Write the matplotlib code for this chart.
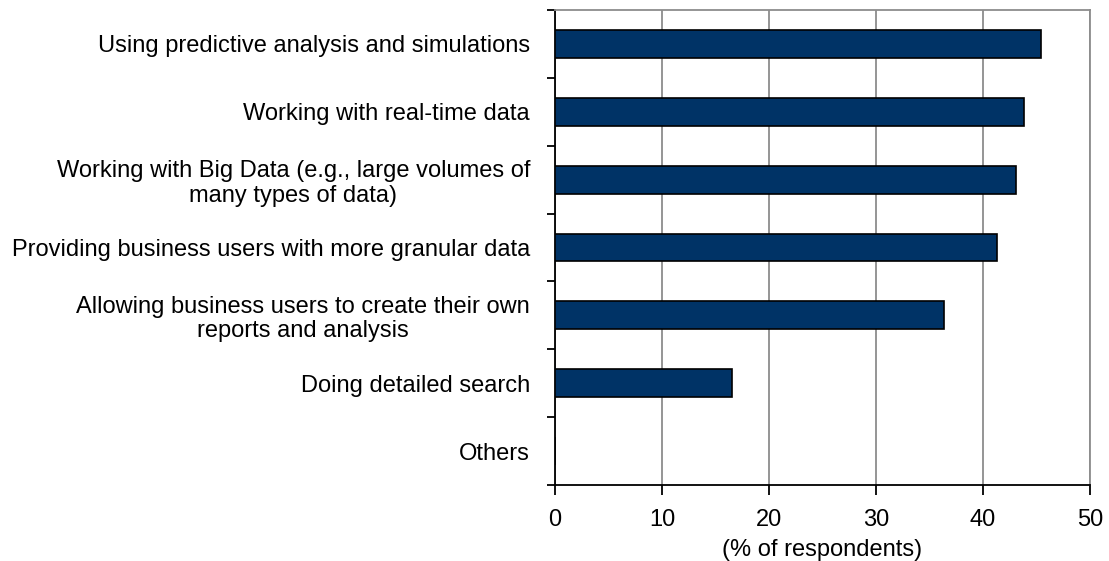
import matplotlib
matplotlib.use("Agg")
import matplotlib.pyplot as plt

plt.rcParams['font.family'] = ['Liberation Sans', 'DejaVu Sans']

categories = [
    "Using predictive analysis and simulations",
    "Working with real-time data",
    "Working with Big Data (e.g., large volumes of\nmany types of data)",
    "Providing business users with more granular data",
    "Allowing business users to create their own\nreports and analysis",
    "Doing detailed search",
    "Others",
]
values = [45.4, 43.8, 43.1, 41.3, 36.4, 16.5, 0.0]
x_ticks = [0, 10, 20, 30, 40, 50]

FS = 17

fig = plt.figure(figsize=(11.09, 5.61), dpi=100)
ax = fig.add_axes([555 / 1109, 1 - 485 / 561, 535 / 1109, 475 / 561])

n = len(categories)
ypos = list(range(n))
ax.barh(ypos, values, height=0.41, color='#003366', edgecolor='black',
        linewidth=1.2, zorder=3)

ax.set_xlim(0, 50)
ax.set_ylim(n - 0.5, -0.5)
ax.set_xticks(x_ticks)
ax.set_xticklabels([str(t) for t in x_ticks], fontsize=FS)
ax.xaxis.grid(True, color='#8c8c8c', linewidth=1.3, zorder=0)

# category labels sit between the boundary ticks
ax.set_yticks(ypos)
ax.set_yticklabels(categories, fontsize=FS, multialignment='center',
                   linespacing=1.15)
ax.tick_params(axis='y', length=0, pad=18)
ax.set_yticks([i - 0.5 for i in range(n + 1)], minor=True)
ax.tick_params(axis='y', which='minor', length=6, width=1.3, color='black')
ax.tick_params(axis='x', length=7, width=1.3, pad=10)

ax.set_xlabel("(% of respondents)", fontsize=FS, labelpad=6)

for side in ['top', 'right']:
    ax.spines[side].set_color('#8c8c8c')
    ax.spines[side].set_linewidth(1.3)
for side in ['left', 'bottom']:
    ax.spines[side].set_color('black')
    ax.spines[side].set_linewidth(1.3)

fig.savefig("out.png", dpi=100)
